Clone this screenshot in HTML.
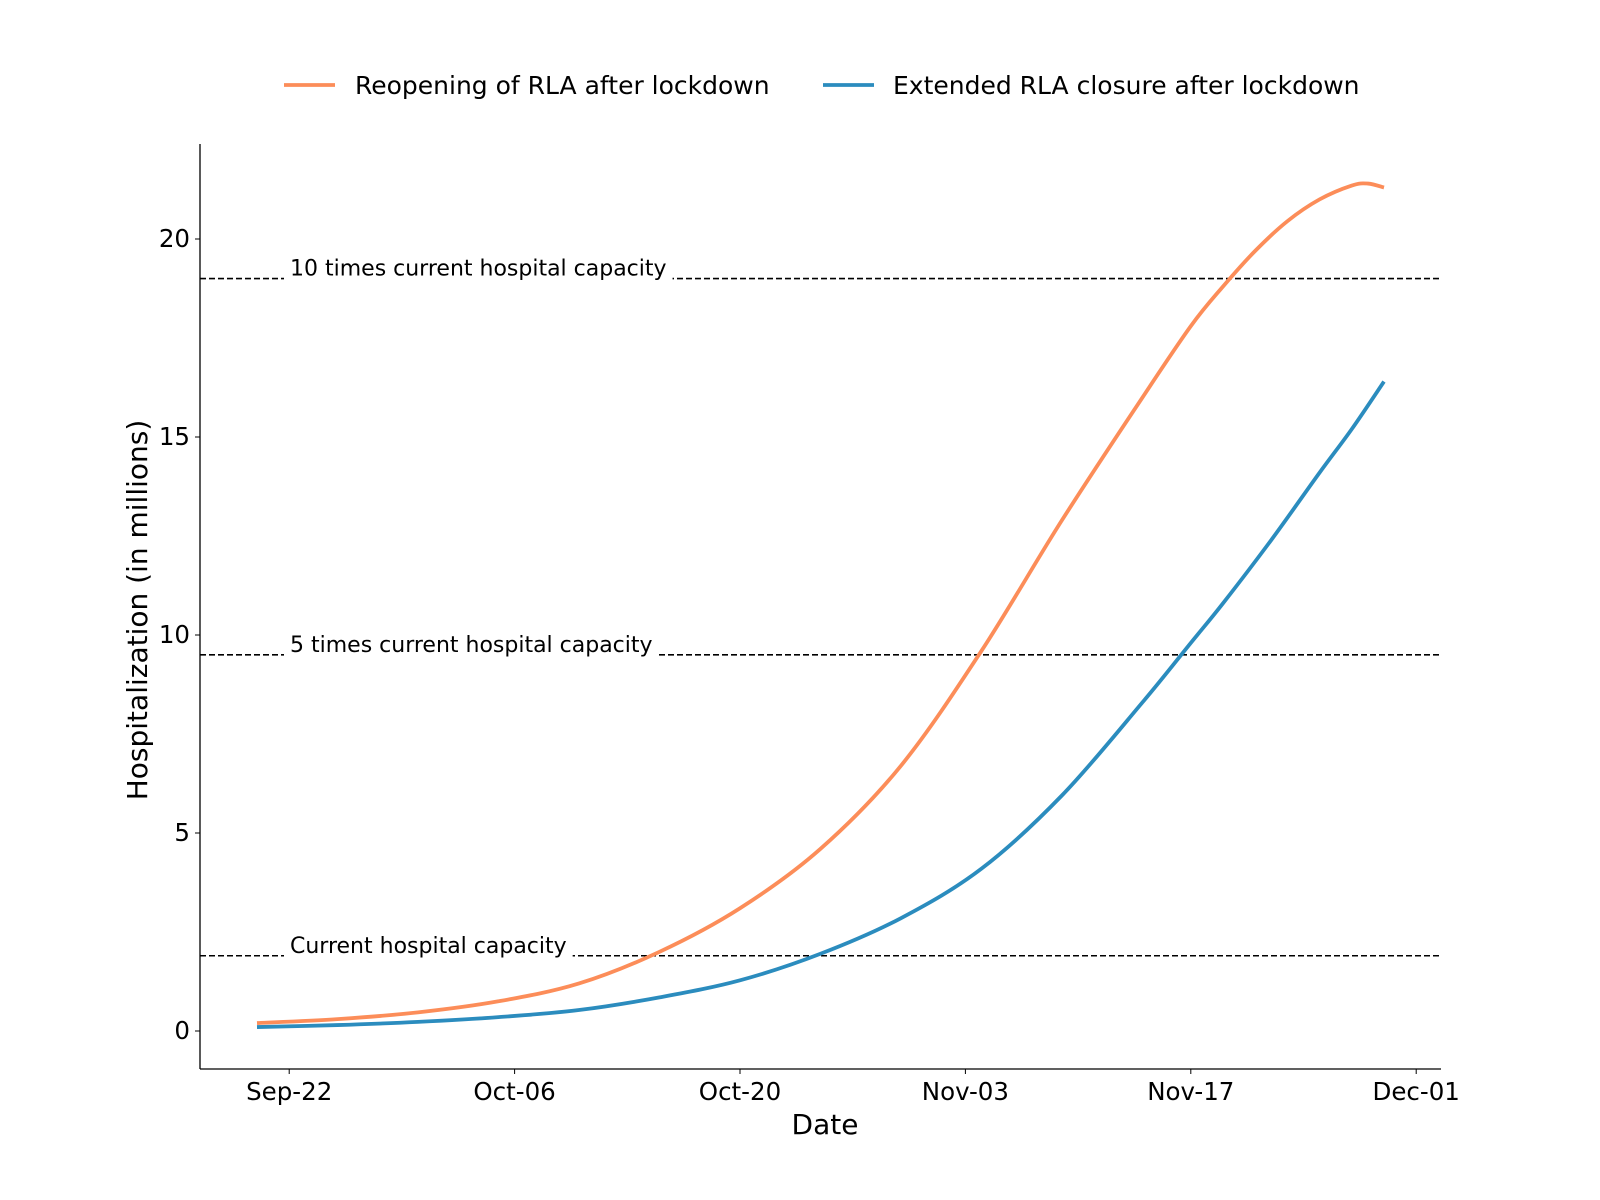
<!DOCTYPE html>
<html><head><meta charset="utf-8"><style>
body{margin:0;background:#fff}
svg{display:block;font-family:"DejaVu Sans","Liberation Sans",sans-serif}
</style></head><body>
<svg id="c" width="1600" height="1200"></svg>
<script>
const days=[0,5,10,15,20,25,30,35,40,45,50,55,58,60,62,64,66,68,69,70];
const reopen=[0.2,0.3,0.47,0.75,1.2,2.0,3.1,4.6,6.7,9.6,12.9,16.0,17.8,18.8,19.7,20.45,21.0,21.35,21.4,21.3];
const blueDays=[0,5,10,15,20,25,30,35,40,45,50,55,58,60,63,66,68,70];
const closure=[0.1,0.15,0.23,0.35,0.53,0.85,1.28,1.95,2.85,4.1,5.95,8.3,9.8,10.8,12.4,14.1,15.2,16.4];
const yTicks=[0,5,10,15,20];
const xTickDays=[2,16,30,44,58,72];
const xTickLabels=["Sep-22","Oct-06","Oct-20","Nov-03","Nov-17","Dec-01"];
const hlines=[1.9,9.5,19];
const hlabels=["Current hospital capacity","5 times current hospital capacity","10 times current hospital capacity"];
const NS="http://www.w3.org/2000/svg",svg=document.getElementById('c');
const X0=200,X1=1441,Y0=144,Y1=1069;
const x=d=>257+d*16.1;
const y=v=>1031-v*39.6;
function el(t,a,p){const e=document.createElementNS(NS,t);for(const k in a)e.setAttribute(k,a[k]);(p||svg).appendChild(e);return e;}
hlines.forEach((h,i)=>{
 const l=el('line',{x1:X0,x2:X1,y1:y(h),y2:y(h),stroke:'#000','stroke-width':1.6,'stroke-dasharray':'6,3'});
 
 
 const t=el('text',{x:290,y:y(h)-3,'font-size':'22','fill':'#000'});t.textContent=hlabels[i];
 
 
 const bb=t.getBBox();
 const r=el('rect',{x:bb.x-6,y:bb.y,width:bb.width+12,height:bb.height,fill:'#fff'});
 svg.insertBefore(r,t);
});
function path(ds,vs,col,name){
 const pts=ds.map((d,i)=>[x(d),y(vs[i])]);
 let s='M'+pts[0][0]+','+pts[0][1];
 for(let i=0;i<pts.length-1;i++){
  const p0=pts[Math.max(0,i-1)],p1=pts[i],p2=pts[i+1],p3=pts[Math.min(pts.length-1,i+2)];
  s+=' C'+(p1[0]+(p2[0]-p0[0])/6)+','+(p1[1]+(p2[1]-p0[1])/6)+' '+(p2[0]-(p3[0]-p1[0])/6)+','+(p2[1]-(p3[1]-p1[1])/6)+' '+p2[0]+','+p2[1];
 }
 const p=el('path',{d:s,fill:'none',stroke:col,'stroke-width':3.8});
 
 
}
path(days,reopen,'#fc8d59','reopening-line');
path(blueDays,closure,'#2b8cbe','closure-line');
el('line',{x1:X0,x2:X0,y1:Y0,y2:Y1,stroke:'#000','stroke-width':1.3});
el('line',{x1:X0,x2:X1,y1:Y1,y2:Y1,stroke:'#000','stroke-width':1.3});
yTicks.forEach(v=>{
 el('line',{x1:X0-5,x2:X0,y1:y(v),y2:y(v),stroke:'#000'});
 const t=el('text',{x:X0-10,y:y(v)+8,'font-size':'24.5','text-anchor':'end'});t.textContent=v;
 
 
});
xTickDays.forEach((d,i)=>{
 el('line',{x1:x(d),x2:x(d),y1:Y1,y2:Y1+5,stroke:'#000'});
 const t=el('text',{x:x(d),y:Y1+31,'font-size':'24.5','text-anchor':'middle'});t.textContent=xTickLabels[i];
 
 
});
let t=el('text',{x:825,y:1134,'font-size':'28','text-anchor':'middle'});t.textContent='Date';


t=el('text',{x:147,y:610,'font-size':'28','text-anchor':'middle',transform:'rotate(-90 147 610)'});t.textContent='Hospitalization (in millions)';


[[284,355,'#fc8d59','Reopening of RLA after lockdown'],[823,893,'#2b8cbe','Extended RLA closure after lockdown']].forEach(l=>{
 el('line',{x1:l[0],x2:l[0]+51,y1:85,y2:85,stroke:l[2],'stroke-width':3.8});
 const tt=el('text',{x:l[1],y:94,'font-size':'25'});tt.textContent=l[3];
 
 
});
</script>
</body></html>
